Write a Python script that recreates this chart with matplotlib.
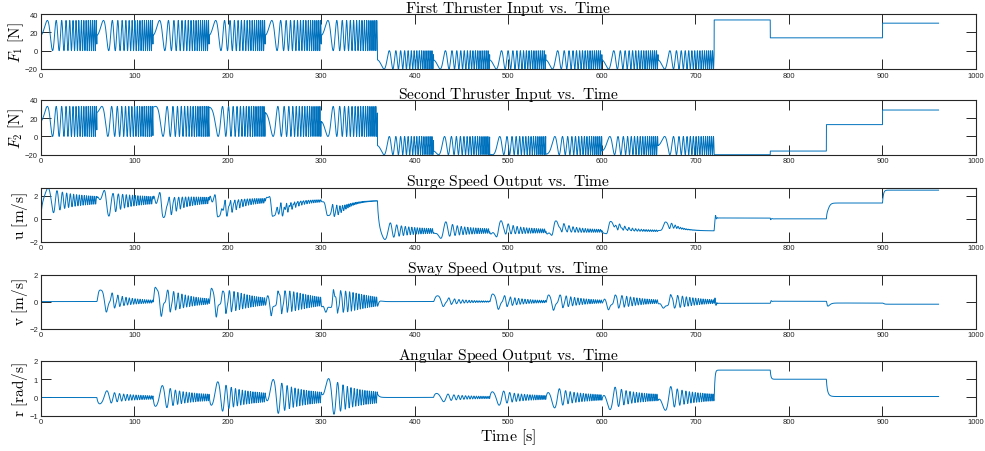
import numpy as np
import matplotlib
matplotlib.use("Agg")
import matplotlib.pyplot as plt

plt.rcParams['mathtext.fontset'] = 'cm'
plt.rcParams['font.family'] = ['Liberation Sans', 'DejaVu Sans']

# ---- inputs ----
seg_len = 60.0                       # each chirp burst lasts 60 s
seg_starts = np.arange(0, 720, 60)   # 12 bursts, 0..660
shift_deg = [0, 36, 72, 108, 144, 180]  # F2 phase lag per burst (repeats for the 2nd half)
pos_mid, pos_amp = 16.5, 16.5        # 0..33 N bursts (0-360 s)
neg_mid, neg_amp = -10.0, 10.0       # -20..0 N bursts (360-720 s)
chirp_f0, chirp_k = 0.005, 0.0085    # start freq [Hz], sweep rate [Hz/s]

step_t = [720, 780, 840, 900, 960]
F1_step = [33.5, 14.0, 14.0, 30.0]
F2_step = [-20.0, -16.0, 13.0, 29.0]

# ---- boat response coefficients (fitted to the plotted levels) ----
m_u, d_u1, d_u2, c_vr = 30.0, 14.83, 3.56, 2.2
I_r, d_r1, d_r2 = 33.0, 18.7, 11.3
c_ur, tau_v = 1.5, 0.6

dt = 0.01
t = np.arange(0, 960 + dt / 2, dt)
F1 = np.zeros_like(t)
F2 = np.zeros_like(t)

for i, s in enumerate(seg_starts):
    m = (t >= s) & (t < s + seg_len)
    tau = t[m] - s
    ph = 2 * np.pi * (chirp_f0 * tau + 0.5 * chirp_k * tau ** 2)
    d = np.deg2rad(shift_deg[i % 6])
    if i < 6:
        F1[m] = pos_mid + pos_amp * np.sin(ph)
        F2[m] = pos_mid + pos_amp * np.sin(ph + d)
    else:
        F1[m] = neg_mid - neg_amp * np.sin(ph)
        F2[m] = neg_mid - neg_amp * np.sin(ph + d)

for j in range(len(F1_step)):
    m = (t >= step_t[j]) & (t <= step_t[j + 1])
    F1[m] = F1_step[j]
    F2[m] = F2_step[j]

# integrate the surge / sway / yaw response
f1 = F1.tolist()
f2 = F2.tolist()
u = np.zeros_like(t)
v = np.zeros_like(t)
r = np.zeros_like(t)
uu = vv = rr = 0.0
for n in range(len(t)):
    u[n], v[n], r[n] = uu, vv, rr
    fs = f1[n] + f2[n]
    fd = f1[n] - f2[n]
    du = (fs - d_u1 * uu - d_u2 * uu * abs(uu)) / m_u + c_vr * vv * rr
    dv = (-c_ur * uu * rr - vv) / tau_v
    dr = (fd - d_r1 * rr - d_r2 * rr * abs(rr)) / I_r
    uu += du * dt
    vv += dv * dt
    rr += dr * dt

# ---- plotting ----
W, H = 985, 452
fig = plt.figure(figsize=(W / 100, H / 100), dpi=100)
tops = [15, 101, 188.5, 275.5, 362]
bots = [70, 155.7, 242.7, 329.7, 416.7]
left, right = 40.7, 976

series = [F1, F2, u, v, r]
titles = [r'$\mathrm{First\ Thruster\ Input\ vs.\ Time}$',
          r'$\mathrm{Second\ Thruster\ Input\ vs.\ Time}$',
          r'$\mathrm{Surge\ Speed\ Output\ vs.\ Time}$',
          r'$\mathrm{Sway\ Speed\ Output\ vs.\ Time}$',
          r'$\mathrm{Angular\ Speed\ Output\ vs.\ Time}$']
ylabels = [r'$F_1\ \mathrm{[N]}$', r'$F_2\ \mathrm{[N]}$',
           r'$\mathrm{u\ [m/s]}$', r'$\mathrm{v\ [m/s]}$', r'$\mathrm{r\ [rad/s]}$']
ylims = [(-20, 40), (-20, 40), (-2, 2.7), (-2, 2), (-1, 2)]
yticks = [[-20, 0, 20, 40], [-20, 0, 20, 40], [-2, 0, 2], [-2, 0, 2], [-1, 0, 1, 2]]

for k in range(5):
    ax = fig.add_axes([left / W, 1 - bots[k] / H, (right - left) / W, (bots[k] - tops[k]) / H])
    ax.plot(t, series[k], color='#0072BD', lw=0.7)
    ax.set_xlim(0, 1000)
    ax.set_ylim(*ylims[k])
    ax.set_xticks(np.arange(0, 1001, 100))
    ax.set_yticks(yticks[k])
    ax.tick_params(direction='in', length=7, width=0.7, color='#262626',
                   labelsize=5.5, labelcolor='#262626', top=True, right=True, pad=2)
    for sp in ax.spines.values():
        sp.set_color('#262626')
        sp.set_linewidth(0.8)
    ax.set_title(titles[k], fontsize=11.2, pad=1.5)
    ax.set_ylabel(ylabels[k], fontsize=11, labelpad=-0.5)
    if k == 4:
        ax.set_xlabel(r'$\mathrm{Time\ [s]}$', fontsize=11.5, labelpad=1)

fig.savefig('out.png', dpi=100)
